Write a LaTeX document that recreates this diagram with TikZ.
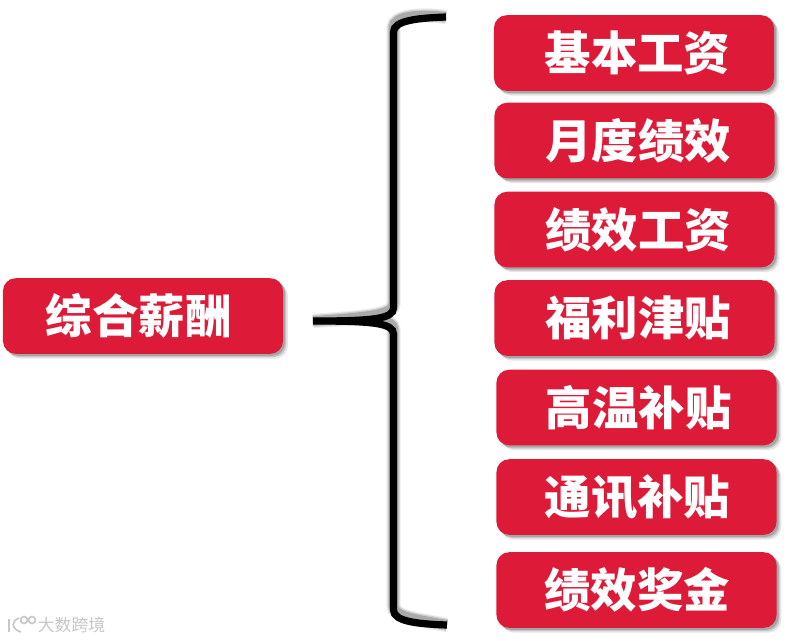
\documentclass[tikz,border=0pt]{standalone}
\usepackage{fontspec}
\newfontfamily\cjk{Noto Sans CJK SC}
\usetikzlibrary{shadows}
\definecolor{payred}{HTML}{DD1B38}
\tikzset{
  softshadow/.style={
    drop shadow={shadow xshift=0.05cm,shadow yshift=-0.05cm,fill=black,opacity=0.16},
    drop shadow={shadow xshift=0.08cm,shadow yshift=-0.08cm,fill=black,opacity=0.14},
    drop shadow={shadow xshift=0.12cm,shadow yshift=-0.12cm,fill=black,opacity=0.10}},
  paybox/.style={softshadow,fill=payred,rounded corners=0.32cm,minimum width=7cm,
    minimum height=1.89cm,inner sep=0pt,text=white,font=\cjk\bfseries\fontsize{33}{33}\selectfont},
  bracket/.style={line width=0.18cm,black},
  markline/.style={black!22,line width=0.04cm}
}
\newcommand{\bracketpath}{%
  (top) .. controls (420,18) and (393.5,20) .. (393.5,32) -- (393.5,308)
  .. controls (393.5,319) and (372,321) .. (mid)
  .. controls (372,321) and (393.5,323) .. (393.5,334) -- (393.5,610)
  .. controls (393.5,622) and (420,624) .. (bot)}
\begin{document}
\begin{tikzpicture}[x=0.025cm,y=-0.025cm]
  \useasboundingbox (0,0) rectangle (789,640);

  % Bracket ends
  \coordinate (top) at (446,17);
  \coordinate (mid) at (313,321);
  \coordinate (bot) at (447,625);

  % Drawing soft shadow of the bracket
  \draw [line width=0.36cm,black,opacity=0.07,yshift=0.11cm] \bracketpath;
  \draw [line width=0.30cm,black,opacity=0.12,yshift=0.11cm] \bracketpath;
  \draw [line width=0.24cm,black,opacity=0.18,yshift=0.11cm] \bracketpath;

  % Drawing the bracket
  \draw [bracket] \bracketpath;

  % Marking left box
  \node [paybox] (total) at (143,316) {综合薪酬\kern6pt};

  % Marking right boxes
  \node [paybox] (basic) at (634,53) {\kern5pt 基本工资};
  \node [paybox] (monthly) at (634.5,140.5) {\kern5pt 月度绩效};
  \node [paybox] (merit) at (634.5,229.5) {\kern5pt 绩效工资};
  \node [paybox] (welfare) at (634.5,318) {\kern5pt 福利津贴};
  \node [paybox] (heat) at (636.5,407.5) {\kern3pt 高温补贴};
  \node [paybox] (phone) at (636.5,497) {\kern1.5pt 通讯补贴};
  \node [paybox] (bonus) at (636.5,590) {\kern1pt 绩效奖金};

  % Marking watermark
  \node [text=black!22,font=\cjk\fontsize{12}{12}\selectfont,inner sep=0pt] (mark) at (71.5,625) {大数跨境};
  \draw [markline] (9,619) -- (9,632);
  \draw [markline] (19,618) .. controls (11,621) and (11,629) .. (21,632);
  \draw [markline] (24,620) circle (3.5);
  \draw [markline] (32,620) circle (3.5);
\end{tikzpicture}
\end{document}
